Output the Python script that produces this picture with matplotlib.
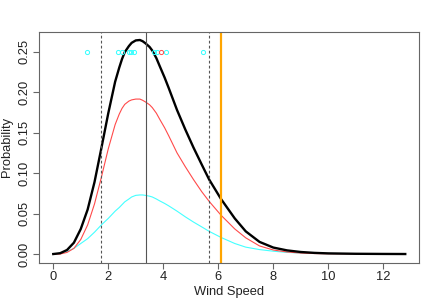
import numpy as np
import matplotlib
matplotlib.use("Agg")
import matplotlib.pyplot as plt

plt.rcParams['font.family'] = ['Liberation Sans', 'DejaVu Sans']

# wind speed grid
speed = [0.0, 0.25, 0.5, 0.75, 1.0, 1.25, 1.5, 1.75, 2.0, 2.25, 2.4, 2.5,
         2.6, 2.75, 2.85, 3.0, 3.15, 3.25, 3.35, 3.5, 3.6, 3.75, 3.88, 4.05,
         4.2, 4.5, 4.8, 5.1, 5.4, 5.67, 6.1, 6.6, 7.0, 7.5, 8.0, 8.5, 9.0,
         9.5, 10.0, 11.0, 12.0, 12.8]

# component 1 (red)
dens_red = [0.0, 0.0, 0.002, 0.007, 0.018, 0.036, 0.062, 0.095, 0.130,
            0.160, 0.173, 0.180, 0.185, 0.189, 0.1905, 0.1915, 0.1915,
            0.190, 0.188, 0.1845, 0.181, 0.174, 0.166, 0.156, 0.146, 0.125,
            0.108, 0.092, 0.077, 0.065, 0.048, 0.031, 0.020, 0.010, 0.005,
            0.0025, 0.0012, 0.0006, 0.0003, 0.0001, 0.0, 0.0]

# component 2 (cyan)
dens_cyan = [0.0, 0.001, 0.003, 0.007, 0.013, 0.019, 0.027, 0.036, 0.044,
             0.053, 0.0575, 0.061, 0.0645, 0.068, 0.0705, 0.0725, 0.073,
             0.073, 0.0725, 0.0715, 0.0705, 0.068, 0.0655, 0.0625, 0.0595,
             0.053, 0.046, 0.0395, 0.0335, 0.028, 0.0205, 0.013, 0.0085,
             0.0055, 0.0035, 0.002, 0.0013, 0.0008, 0.0005, 0.0002, 0.0001,
             0.0]

# mixture (black)
dens_mix = [0.0, 0.001, 0.005, 0.014, 0.031, 0.055, 0.089, 0.131, 0.174,
            0.213, 0.2305, 0.241, 0.2495, 0.257, 0.261, 0.264, 0.2645,
            0.263, 0.2605, 0.256, 0.2515, 0.242, 0.2315, 0.218, 0.205,
            0.178, 0.154, 0.1315, 0.1105, 0.092, 0.068, 0.044, 0.028, 0.015,
            0.008, 0.0045, 0.0025, 0.0014, 0.0008, 0.0003, 0.0001, 0.0]

# observations shown along the top
obs_x = [1.24, 2.36, 2.50, 2.75, 2.83, 2.94, 3.66, 3.76, 4.10, 5.43]
obs_red_x = [3.92]
obs_y = 0.25

vline_solid = 3.36
vline_dashed = [1.75, 5.66]
vline_orange = 6.09

fig = plt.figure(figsize=(4.36, 3.03), dpi=100)
ax = fig.add_axes([0.0894, 0.132, 0.8716, 0.764])

ax.plot(speed, dens_cyan, color='#44FFFF', lw=0.8)
ax.plot(speed, dens_red, color='#FF4A4A', lw=0.8)
ax.plot(speed, dens_mix, color='black', lw=1.7)

ax.plot(obs_x, [obs_y] * len(obs_x), 'o', ms=3, mfc='none', mec='#33FFFF', mew=0.7)
ax.plot(obs_red_x, [obs_y] * len(obs_red_x), 'o', ms=3, mfc='none', mec='#FF4A4A', mew=0.7)

ax.axvline(vline_solid, color='#555555', lw=0.8)
for v in vline_dashed:
    ax.axvline(v, color='#555555', lw=0.8, ls=(0, (2.5, 2)))
ax.axvline(vline_orange, color='#FFA500', lw=1.6)

ax.set_xlim(-0.52, 13.3)
ax.set_ylim(-0.0111, 0.275)
ax.set_xticks(np.arange(0, 13, 2))
ax.set_yticks(np.arange(0, 0.26, 0.05))
ax.set_yticklabels(["%.2f" % t for t in np.arange(0, 0.26, 0.05)],
                   rotation=90, va='center')

for s in ax.spines.values():
    s.set_color('#666666')
    s.set_linewidth(0.8)
ax.tick_params(direction='out', length=4, width=0.8, color='#666666',
               labelsize=9.3, labelcolor='#222222', pad=2)
ax.set_xlabel("Wind Speed", fontsize=9.3, color='#222222', labelpad=2)
ax.set_ylabel("Probability", fontsize=9.3, color='#222222', labelpad=4)

fig.savefig("out.png", dpi=100)
